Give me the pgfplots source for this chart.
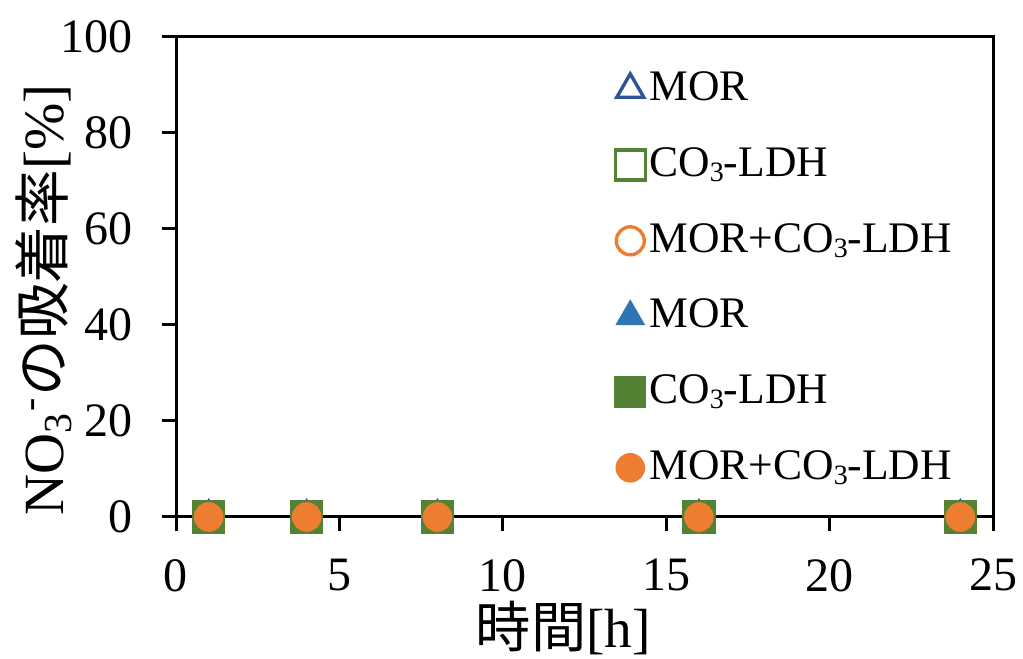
\documentclass[border=0pt]{standalone}
\usepackage{fontspec}
\setmainfont{Liberation Serif}
\newfontfamily\cjk{Noto Sans CJK JP}
\usepackage{pgfplots}
\pgfplotsset{compat=1.18}

\definecolor{morblue}{HTML}{2F5597}
\definecolor{morfill}{HTML}{2E75B6}
\definecolor{ldhgreen}{HTML}{548235}
\definecolor{mixorange}{HTML}{ED7D31}

\newcommand{\sub}[1]{\raisebox{-0.25ex}{\fontsize{7pt}{7pt}\selectfont #1}}

\begin{document}
\begin{tikzpicture}
\begin{axis}[
  name=ax,
  scale only axis,
  width=204.25pt, height=120pt,
  xmin=0, xmax=25, ymin=0, ymax=100,
  xtick={0,5,10,15,20,25},
  ytick={0,20,40,60,80,100},
  xtick pos=lower, ytick pos=left,
  tick align=outside,
  major tick length=3.5pt,
  axis line style={line width=0.75pt},
  every tick/.style={black, line width=0.75pt},
  /pgf/number format/assume math mode=true,
  ticklabel style={font=\fontsize{12pt}{12pt}\selectfont},
  xticklabel style={yshift=-3.5pt},
  yticklabel style={xshift=-3.75pt},
  xlabel={{\cjk 時間}[h]},
  ylabel={NO\textsubscript{3}\textsuperscript{-}{\cjk の吸着率}[\%]},
  xlabel style={font=\fontsize{13.8pt}{13.8pt}\selectfont,
    at={(axis description cs:0.474,-0.232)}, anchor=center},
  ylabel style={font=\fontsize{14.2pt}{14.2pt}\selectfont,
    at={(axis description cs:-0.162,0.452)}, anchor=center},
  clip=false,
  legend style={draw=none, fill=none, at={(axis cs:13.05,96.2)}, anchor=north west,
    font=\fontsize{10.9pt}{10.9pt}\selectfont, row sep=6.2pt,
    nodes={inner xsep=1pt}},
  legend cell align=left,
  legend image code/.code={\draw[mark repeat=2,mark phase=2,#1]
    plot coordinates {(-3.5pt,0pt)(0pt,0pt)(3.5pt,0pt)};},
]
% open markers
\addplot[only marks, mark=triangle*, mark size=3.9pt,
  mark options={draw=morblue, fill=white, line width=0.85pt}]
  coordinates {(1,0) (4,0) (8,0) (16,0) (24,0)};
\addlegendentry{MOR}
\addplot[only marks, mark=square*, mark size=3.75pt,
  mark options={draw=ldhgreen, fill=white, line width=0.85pt}]
  coordinates {(1,0) (4,0) (8,0) (16,0) (24,0)};
\addlegendentry{CO\sub{3}-LDH}
\addplot[only marks, mark=*, mark size=3.5pt,
  mark options={draw=mixorange, fill=white, line width=0.85pt}]
  coordinates {(1,0) (4,0) (8,0) (16,0) (24,0)};
\addlegendentry{MOR+CO\sub{3}-LDH}
% filled markers
\addplot[only marks, mark=triangle*, mark size=3.9pt,
  mark options={draw=morfill, fill=morfill}]
  coordinates {(1,0) (4,0) (8,0) (16,0) (24,0)};
\addlegendentry{MOR}
\addplot[only marks, mark=square*, mark size=3.75pt,
  mark options={draw=ldhgreen, fill=ldhgreen}]
  coordinates {(1,0) (4,0) (8,0) (16,0) (24,0)};
\addlegendentry{CO\sub{3}-LDH}
\addplot[only marks, mark=*, mark size=3.5pt,
  mark options={draw=mixorange, fill=mixorange}]
  coordinates {(1,0) (4,0) (8,0) (16,0) (24,0)};
\addlegendentry{MOR+CO\sub{3}-LDH}
\end{axis}
\pgfresetboundingbox
\path[use as bounding box] (-44pt,-35.5pt) rectangle (211.75pt,129.25pt);
\end{tikzpicture}
\end{document}
